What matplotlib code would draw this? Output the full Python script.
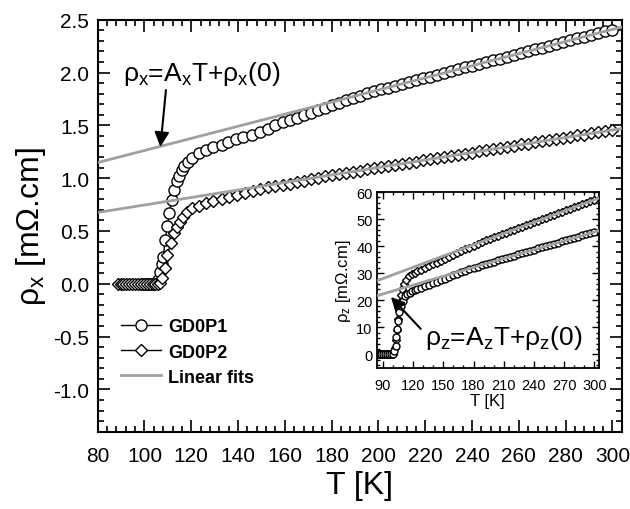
import numpy as np
import matplotlib
matplotlib.use('Agg')
import matplotlib.pyplot as plt
from matplotlib.ticker import MultipleLocator, FormatStrFormatter

plt.rcParams['font.family'] = ['Liberation Sans', 'DejaVu Sans']
plt.rcParams['mathtext.fontset'] = 'custom'
plt.rcParams['mathtext.rm'] = 'Liberation Sans'
plt.rcParams['mathtext.it'] = 'Liberation Sans'
plt.rcParams['mathtext.bf'] = 'Liberation Sans:bold'

# ---- main panel data (rho_x, mOhm.cm) ----
t_p1_low = [99.0, 100.5, 102.0, 103.5, 104.8, 105.8, 106.7, 107.5, 108.1, 108.8,
            109.8, 110.6, 111.7, 112.7, 113.8, 114.9, 116.0, 116.9, 118.4, 120.2,
            123.1, 126.4, 129.5, 133.1, 135.9, 139.2, 142.3, 145.9, 149.5, 153.0, 156.0]
rho_p1_low = [0.0, 0.0, 0.0, 0.0, 0.01, 0.04, 0.114, 0.19, 0.257, 0.415,
              0.548, 0.669, 0.796, 0.89, 0.97, 1.024, 1.074, 1.112, 1.15, 1.192,
              1.24, 1.265, 1.293, 1.318, 1.34, 1.366, 1.388, 1.41, 1.439, 1.468, 1.503]

t_p2_low = [88.5, 89.8, 91.0, 92.3, 93.5, 94.8, 96.0, 97.3, 98.5, 99.8, 101.0, 102.3,
            103.5, 104.7, 105.8, 106.6, 107.4, 108.8, 109.8, 111.2, 112.8, 113.8, 115.2,
            116.6, 118.1, 120.2, 123.1, 126.4, 129.5, 133.1, 136.3, 139.5, 143.0,
            146.4, 149.5, 153.0, 156.0]
rho_p2_low = [0.0, 0.0, 0.0, 0.0, 0.0, 0.0, 0.0, 0.0, 0.0, 0.0, 0.0, 0.0,
              0.0, 0.0, 0.0, 0.01, 0.051, 0.146, 0.273, 0.384, 0.479, 0.542, 0.589,
              0.637, 0.675, 0.717, 0.739, 0.764, 0.786, 0.805, 0.821, 0.836, 0.855,
              0.874, 0.897, 0.916, 0.927]

t_high = [159, 162, 165, 168, 171, 174, 177, 180, 183, 186, 189, 192, 195, 198,
          201, 204, 207, 210, 213, 216, 219, 222, 225, 228, 231, 234, 237, 240,
          243, 246, 249, 252, 255, 258, 261, 264, 267, 270, 273, 276, 279, 282,
          285, 288, 291, 294, 297, 300]
rho_p1_high = [1.528, 1.551, 1.574, 1.598, 1.621, 1.645, 1.668, 1.691, 1.715, 1.738,
               1.760, 1.782, 1.803, 1.823, 1.840, 1.858, 1.876, 1.892, 1.910, 1.926,
               1.945, 1.960, 1.979, 1.994, 2.014, 2.029, 2.048, 2.063, 2.082, 2.098,
               2.117, 2.132, 2.151, 2.166, 2.186, 2.201, 2.220, 2.235, 2.254, 2.269,
               2.289, 2.304, 2.323, 2.338, 2.357, 2.373, 2.392, 2.407]
rho_p2_high = [0.935, 0.949, 0.963, 0.976, 0.990, 1.004, 1.016, 1.029, 1.041, 1.051,
               1.063, 1.072, 1.084, 1.093, 1.106, 1.114, 1.127, 1.136, 1.148, 1.157,
               1.169, 1.178, 1.191, 1.199, 1.212, 1.221, 1.233, 1.242, 1.255, 1.263,
               1.276, 1.285, 1.297, 1.306, 1.319, 1.327, 1.340, 1.349, 1.361, 1.370,
               1.382, 1.391, 1.404, 1.412, 1.425, 1.434, 1.446, 1.455]

# linear fits rho = A*T + rho0
fit_x_p1 = (0.00573, 0.689)
fit_x_p2 = (0.00355, 0.391)

# ---- inset data (rho_z, mOhm.cm) ----
tz_p1_low = [86, 88, 90, 92, 94, 96, 98, 100.2, 101.5, 102.8, 103.5, 104.1, 105.2, 106.2,
             107.6, 109.6, 111.8, 114.2, 116.7, 119.2, 121.5]
rz_p1_low = [0, 0, 0, 0, 0, 0, 0, 0.2, 1.2, 3.2, 6.3, 9.4, 12.5, 15.6,
             18.0, 19.9, 21.7, 22.3, 22.8, 23.3, 23.7]
tz_p2_low = [85, 87, 89, 91, 93, 95, 97, 99, 100.5, 102, 103, 104, 105, 106, 107, 108,
             109.5, 111, 113, 116, 119, 121.5]
rz_p2_low = [0, 0, 0, 0, 0, 0, 0, 0, 0.3, 2.5, 5.5, 9.0, 13.0, 16.5, 19.5, 22.0,
             24.3, 26.0, 27.5, 28.8, 29.6, 30.2]
tz_high = [124, 128, 132, 136, 140, 144, 148, 152, 156, 160, 164, 168, 172, 176,
           180, 184, 188, 192, 196, 200, 204, 208, 212, 216, 220, 224, 228, 232,
           236, 240, 244, 248, 252, 256, 260, 264, 268, 272, 276, 280, 284, 288,
           292, 296, 300]
rz_p1_high = [24.1, 24.6, 25.2, 25.7, 26.3, 26.8, 27.4, 28.0, 28.6, 29.2, 29.7, 30.3,
              30.8, 31.4, 31.9, 32.45, 32.95, 33.4, 33.9, 34.3, 34.8, 35.2, 35.65,
              36.1, 36.5, 36.95, 37.4, 37.85, 38.25, 38.7, 39.15, 39.55, 40.0, 40.45,
              40.9, 41.3, 41.75, 42.2, 42.6, 43.05, 43.5, 43.95, 44.35, 44.8, 45.2]
rz_p2_high = [30.75, 31.35, 31.95, 32.6, 33.3, 33.9, 34.6, 35.3, 36.0, 36.7, 37.4,
              38.1, 38.8, 39.5, 40.15, 40.8, 41.45, 42.1, 42.7, 43.3, 43.85, 44.4,
              44.95, 45.5, 46.05, 46.6, 47.15, 47.7, 48.25, 48.8, 49.4, 49.95, 50.5,
              51.05, 51.6, 52.15, 52.7, 53.25, 53.8, 54.35, 54.9, 55.5, 56.05, 56.6, 57.1]
fit_z_p1 = (0.109, 12.54)
fit_z_p2 = (0.1386, 15.56)

gray = '#a0a0a0'

fig = plt.figure(figsize=(6.3, 5.1), dpi=100)
ax = fig.add_axes([0.155, 0.1516, 0.832, 0.8078])

ax.plot(t_p1_low + t_high, rho_p1_low + rho_p1_high, '-o', color='k', lw=1,
        ms=8, mfc='white', mec='k', mew=1.0, label='GD0P1', zorder=2)
ax.plot(t_p2_low + t_high, rho_p2_low + rho_p2_high, '-D', color='k', lw=1,
        ms=6, mfc='white', mec='k', mew=1.0, label='GD0P2', zorder=2)
tt = np.array([80, 304])
ax.plot(tt, fit_x_p1[0] * tt + fit_x_p1[1], color=gray, lw=2, label='Linear fits', zorder=3)
ax.plot(tt, fit_x_p2[0] * tt + fit_x_p2[1], color=gray, lw=2, zorder=3)

ax.set_xlim(80, 304)
ax.set_ylim(-1.4, 2.5)
ax.xaxis.set_major_locator(MultipleLocator(20))
ax.xaxis.set_minor_locator(MultipleLocator(4))
ax.yaxis.set_major_locator(MultipleLocator(0.5))
ax.yaxis.set_minor_locator(MultipleLocator(0.1))
ax.yaxis.set_major_formatter(FormatStrFormatter('%.1f'))
ax.tick_params(which='both', direction='in', top=True, right=True, width=1.2)
ax.tick_params(which='major', length=8.5, labelsize=15)
ax.tick_params(axis='x', which='major', pad=10)
ax.tick_params(axis='y', which='major', pad=6)
ax.tick_params(which='minor', length=4.5)
for s in ax.spines.values():
    s.set_linewidth(1.5)
ax.set_xlabel('T [K]', fontsize=23, labelpad=4)
ax.set_ylabel(r'$\rho_x$ [mΩ.cm]', fontsize=23, labelpad=4)

leg = ax.legend(loc='upper left', bbox_to_anchor=(0.045, 0.275), frameon=False,
                prop={'weight': 'bold', 'size': 13}, handlelength=2.2,
                handletextpad=0.4, labelspacing=0.45, borderpad=0, borderaxespad=0)

ax.annotate('', xy=(106.7, 1.27), xytext=(109.3, 1.86),
            arrowprops=dict(arrowstyle='-|>', color='k', lw=1.5, mutation_scale=22))
ax.text(90.8, 2.0, r'$\rho_x$=A$_x$T+$\rho_x$(0)', fontsize=19, va='center', ha='left')

# ---- inset ----
ins = fig.add_axes([0.598, 0.2765, 0.352, 0.345])
ins.plot(tz_p2_low + tz_high, rz_p2_low + rz_p2_high, '-D', color='k', lw=1,
         ms=3.8, mfc='white', mec='k', mew=1.0, zorder=2)
ins.plot(tz_p1_low + tz_high, rz_p1_low + rz_p1_high, '-o', color='k', lw=1,
         ms=5.0, mfc='white', mec='k', mew=1.0, zorder=2)
tz = np.array([84, 304])
ins.plot(tz, fit_z_p1[0] * tz + fit_z_p1[1], color=gray, lw=2, zorder=3)
ins.plot(tz, fit_z_p2[0] * tz + fit_z_p2[1], color=gray, lw=2, zorder=3)
ins.set_xlim(84, 304)
ins.set_ylim(-5, 60)
ins.xaxis.set_major_locator(MultipleLocator(30))
ins.xaxis.set_minor_locator(MultipleLocator(10))
ins.yaxis.set_major_locator(MultipleLocator(10))
ins.yaxis.set_minor_locator(MultipleLocator(2))
ins.tick_params(which='both', direction='in', top=True, right=True, width=1.0)
ins.tick_params(which='major', length=5, labelsize=10.5)
ins.tick_params(which='minor', length=2.5)
ins.tick_params(axis='x', which='major', pad=7)
ins.tick_params(axis='y', which='major', pad=3)
for s in ins.spines.values():
    s.set_linewidth(1.3)
ins.set_xlabel('T [K]', fontsize=12, labelpad=1)
ins.set_ylabel(r'$\rho_z$ [mΩ.cm]', fontsize=12, labelpad=2)
ins.annotate('', xy=(96.2, 22.0), xytext=(129.5, 8.7),
             arrowprops=dict(arrowstyle='-|>', color='k', lw=1.5, mutation_scale=20))
ins.text(131.5, 6.4, r'$\rho_z$=A$_z$T+$\rho_z$(0)', fontsize=19, va='center', ha='left')

fig.savefig('out.png', dpi=100)
